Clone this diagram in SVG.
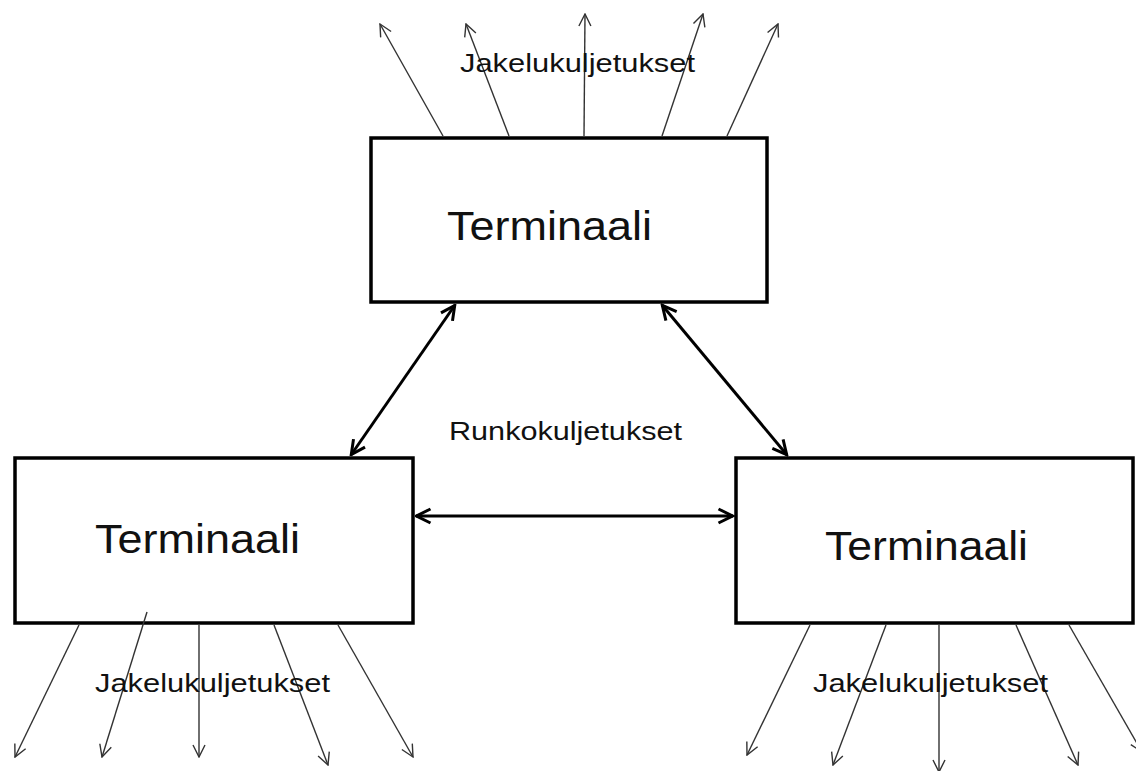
<svg xmlns="http://www.w3.org/2000/svg" width="1136" height="771" viewBox="0 0 1136 771">
<style>
.box{fill:#fff;stroke:#000;stroke-width:3.5}
.thin{stroke:#333;stroke-width:1.4;fill:none;marker-end:url(#ah)}
.thick{stroke:#000;stroke-width:3;fill:none;marker-start:url(#ahb);marker-end:url(#ahb)}
.lbl{font-family:"Liberation Sans",Arial,sans-serif;fill:#111}
.big{font-size:40px}
.small{font-size:25px}
</style>
<defs>
<marker id="ah" viewBox="0 0 14 14" refX="13" refY="7" markerWidth="14" markerHeight="14" markerUnits="userSpaceOnUse" orient="auto">
<path d="M1,1 L13,7 L1,13" fill="none" stroke="#333" stroke-width="1.4"/>
</marker>
<marker id="ahb" viewBox="0 0 18 18" refX="16.5" refY="9" markerWidth="18" markerHeight="18" markerUnits="userSpaceOnUse" orient="auto-start-reverse">
<path d="M2,2 L16,9 L2,16" fill="none" stroke="#000" stroke-width="3"/>
</marker>
</defs>
<rect width="1136" height="771" fill="#fff"/>
<g id="node-top">
<rect class="box" x="371" y="138" width="396" height="164"/>
<text class="lbl big" x="447" y="240" textLength="205" lengthAdjust="spacingAndGlyphs">Terminaali</text>
</g>
<g id="node-left">
<rect class="box" x="15" y="458" width="398" height="165"/>
<text class="lbl big" x="95" y="553" textLength="205" lengthAdjust="spacingAndGlyphs">Terminaali</text>
</g>
<g id="node-right">
<rect class="box" x="736" y="458" width="397" height="165"/>
<text class="lbl big" x="825" y="560" textLength="203" lengthAdjust="spacingAndGlyphs">Terminaali</text>
</g>
<g id="connectors">
<line class="thin" x1="443" y1="136" x2="380" y2="24"/>
<line class="thin" x1="509" y1="136" x2="466" y2="24"/>
<line class="thin" x1="584" y1="136" x2="585" y2="14"/>
<line class="thin" x1="662" y1="136" x2="703" y2="14"/>
<line class="thin" x1="727" y1="136" x2="778" y2="24"/>
<line class="thin" x1="79" y1="625" x2="15" y2="757"/>
<line class="thin" x1="147" y1="612" x2="102" y2="757"/>
<line class="thin" x1="199" y1="625" x2="199" y2="757"/>
<line class="thin" x1="274" y1="625" x2="328" y2="765"/>
<line class="thin" x1="338" y1="625" x2="413" y2="757"/>
<line class="thin" x1="810" y1="625" x2="747" y2="755"/>
<line class="thin" x1="886" y1="625" x2="833" y2="765"/>
<line class="thin" x1="939" y1="625" x2="939" y2="772"/>
<line class="thin" x1="1016" y1="625" x2="1078" y2="765"/>
<line class="thin" x1="1069" y1="625" x2="1142" y2="752"/>
<line class="thick" x1="351" y1="455" x2="455" y2="305"/>
<line class="thick" x1="662" y1="305" x2="787" y2="455"/>
<line class="thick" x1="416" y1="516" x2="733" y2="516"/>
</g>
<g id="labels">
<text class="lbl small" x="460" y="72" textLength="235" lengthAdjust="spacingAndGlyphs">Jakelukuljetukset</text>
<text class="lbl small" x="449" y="440" textLength="233" lengthAdjust="spacingAndGlyphs">Runkokuljetukset</text>
<text class="lbl small" x="95" y="692" textLength="235" lengthAdjust="spacingAndGlyphs">Jakelukuljetukset</text>
<text class="lbl small" x="813" y="692" textLength="235" lengthAdjust="spacingAndGlyphs">Jakelukuljetukset</text>
</g>
</svg>
